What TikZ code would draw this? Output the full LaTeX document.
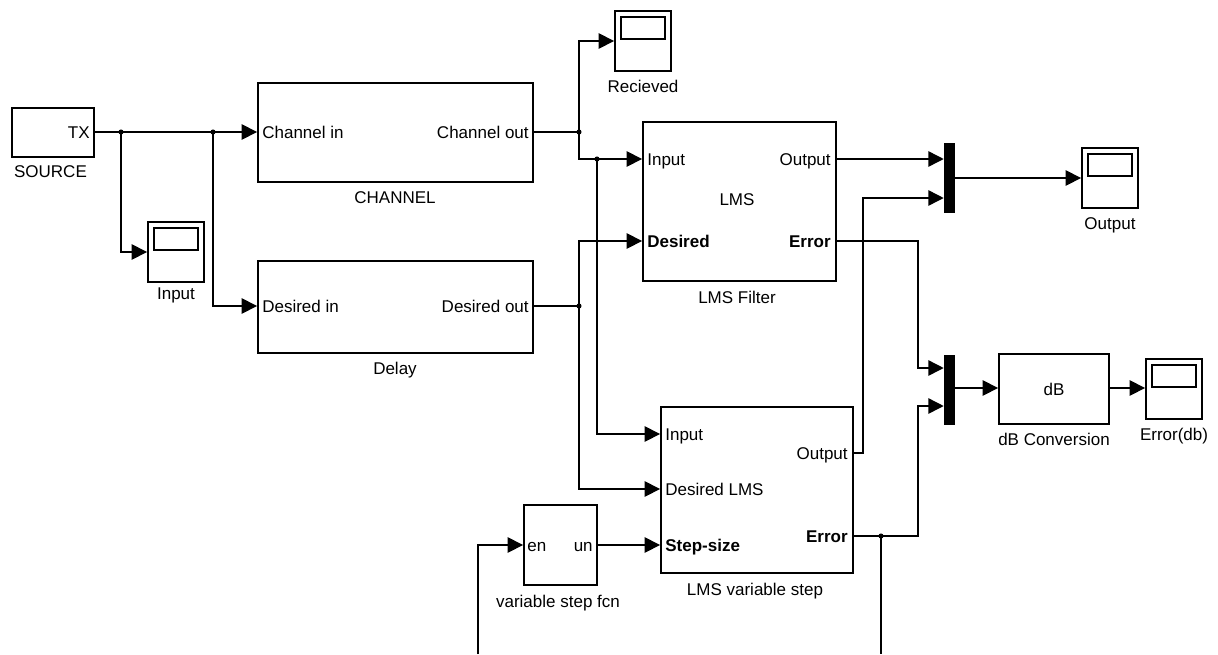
\documentclass[tikz,border=0pt]{standalone}
\usepackage{fontspec}
\setmainfont{Liberation Sans}
\usetikzlibrary{arrows.meta,calc}
\begin{document}
\begin{tikzpicture}[x=0.75pt,y=-0.75pt,
  font=\fontsize{12.75}{15}\selectfont,
  blk/.style={draw,line width=1.4pt,inner sep=0pt},
  scopebox/.style={blk,minimum width=42pt,minimum height=45pt},
  screen/.style={draw,line width=1.3pt},
  muxbar/.style={fill=black,draw=none,minimum width=8.25pt,minimum height=52.5pt,inner sep=0pt},
  wire/.style={line width=1.1pt},
  sig/.style={wire,-{Triangle[length=11.5pt,width=11.5pt]}},
  lbl/.style={inner sep=0pt,anchor=base},
  pin/.style={inner sep=0pt,anchor=base west,yshift=-4.7pt},
  pout/.style={inner sep=0pt,anchor=base east,yshift=-4.7pt},
  dot/.style={fill=black}
]
\useasboundingbox (0,0) rectangle (1218,654);

% ---------- blocks ----------
\node[blk,minimum width=61.5pt,minimum height=36.75pt] (src) at (53,132.5) {};
\node[scopebox] (scin) at (176,252) {};
\node[blk,minimum width=206.25pt,minimum height=74.25pt] (ch) at (395.5,132.5) {};
\node[blk,minimum width=206.25pt,minimum height=69pt] (dl) at (395.5,307) {};
\node[scopebox] (rc) at (643,41) {};
\node[blk,minimum width=144.75pt,minimum height=119.25pt] (lms) at (739.5,201.5) {};
\node[blk,minimum width=144pt,minimum height=124.5pt] (var) at (757,490) {};
\node[blk,minimum width=54.75pt,minimum height=60pt] (vsf) at (560.5,545) {};
\node[muxbar] (mux1) at (949.5,178) {};
\node[muxbar] (mux2) at (949.5,389.5) {};
\node[scopebox] (osc) at (1110,178) {};
\node[blk,minimum width=82.5pt,minimum height=52.5pt] (db) at (1054,389) {};
\node[scopebox] (esc) at (1174,389) {};

% scope screens
\foreach \s in {scin,rc,osc,esc}{
  \draw[screen] ([shift={(7,7)}]\s.north west) rectangle ([shift={(-7,29)}]\s.north east);
}

% ---------- ports ----------
\coordinate (src-o) at (src.east |- 0,132);
\coordinate (ch-i) at (ch.west |- 0,132);
\coordinate (ch-o) at (ch.east |- 0,132);
\coordinate (dl-i) at (dl.west |- 0,306);
\coordinate (dl-o) at (dl.east |- 0,306);
\coordinate (lms-i) at (lms.west |- 0,159);
\coordinate (lms-d) at (lms.west |- 0,241);
\coordinate (lms-o) at (lms.east |- 0,159);
\coordinate (lms-e) at (lms.east |- 0,241);
\coordinate (var-i) at (var.west |- 0,434);
\coordinate (var-d) at (var.west |- 0,489);
\coordinate (var-s) at (var.west |- 0,545);
\coordinate (var-o) at (var.east |- 0,453);
\coordinate (var-e) at (var.east |- 0,536);
\coordinate (vsf-i) at (vsf.west |- 0,545);
\coordinate (vsf-o) at (vsf.east |- 0,545);
\coordinate (m1-a) at (mux1.west |- 0,159);
\coordinate (m1-b) at (mux1.west |- 0,198);
\coordinate (m2-a) at (mux2.west |- 0,368);
\coordinate (m2-b) at (mux2.west |- 0,406);
\coordinate (m2-o) at (mux2.east |- 0,388);
\coordinate (db-i) at (db.west |- 0,388);
\coordinate (db-o) at (db.east |- 0,388);
\coordinate (esc-i) at (esc.west |- 0,388);

% branch points
\coordinate (b1) at (121,132);
\coordinate (b2) at (213,132);
\coordinate (b3) at (579,132);
\coordinate (b4) at (597,159);
\coordinate (b5) at (579,306);
\coordinate (b6) at (881,536);
\coordinate (c1) at (863,453);
\coordinate (c2) at (918,241);
\coordinate (c3) at (918,536);
\coordinate (fb1) at (881,654);
\coordinate (fb2) at (478,654);

% ---------- connectors ----------
\draw[sig] (src-o) -- (ch-i);
\draw[sig] (b1) |- (scin.west);
\draw[sig] (b2) |- (dl-i);
\draw[wire] (ch-o) -- (b3);
\draw[sig] (b3) |- (rc.west);
\draw[sig] (b3) |- (lms-i);
\draw[sig] (b4) |- (var-i);
\draw[wire] (dl-o) -- (b5);
\draw[sig] (b5) |- (lms-d);
\draw[sig] (b5) |- (var-d);
\draw[sig] (lms-o) -- (m1-a);
\draw[sig] (var-o) -- (c1) |- (m1-b);
\draw[sig] (lms-e) -- (c2) |- (m2-a);
\draw[sig] (var-e) -- (c3) |- (m2-b);
\draw[wire] (b6) -- (fb1);
\draw[sig] (fb2) |- (vsf-i);
\draw[sig] (vsf-o) -- (var-s);
\draw[sig] (mux1.east) -- (osc.west);
\draw[sig] (m2-o) -- (db-i);
\draw[sig] (db-o) -- (esc-i);

\foreach \b in {b1,b2,b3,b4,b5,b6}{\fill[dot] (\b) circle (1.9pt);}

% ---------- port labels ----------
\node[pout] at ([xshift=-3.75pt]src-o) {TX};
\node[pin]  at ([xshift=3.75pt]ch-i) {Channel in};
\node[pout] at ([xshift=-3.75pt]ch-o) {Channel out};
\node[pin]  at ([xshift=3.75pt]dl-i) {Desired in};
\node[pout] at ([xshift=-3.75pt]dl-o) {Desired out};
\node[pin]  at ([xshift=3.75pt]lms-i) {Input};
\node[pout] at ([xshift=-4.5pt]lms-o) {Output};
\node[pin]  at ([xshift=3.75pt]lms-d) {\bfseries Desired};
\node[pout] at ([xshift=-4.5pt]lms-e) {\bfseries Error};
\node[lbl]  at (737,205) {LMS};
\node[pin]  at ([xshift=3.75pt]var-i) {Input};
\node[pin]  at ([xshift=3.75pt]var-d) {Desired LMS};
\node[pin]  at ([xshift=3.75pt]var-s) {\bfseries Step-size};
\node[pout] at ([xshift=-4.5pt]var-o) {Output};
\node[pout] at ([xshift=-4.5pt]var-e) {\bfseries Error};
\node[pin]  at ([xshift=3pt]vsf-i) {en};
\node[pout] at ([xshift=-3.75pt]vsf-o) {un};
\node[lbl]  at (1054,395) {dB};

% ---------- block names ----------
\node[lbl] at (50.5,177) {SOURCE};
\node[lbl] at (176,299) {Input};
\node[lbl] at (395,203) {CHANNEL};
\node[lbl] at (395,374) {Delay};
\node[lbl] at (643,92) {Recieved};
\node[lbl] at (737,303) {LMS Filter};
\node[lbl] at (1110,229) {Output};
\node[lbl] at (1054,445) {dB Conversion};
\node[lbl] at (1174,440) {Error(db)};
\node[lbl] at (755,595) {LMS variable step};
\node[lbl] at (558,607) {variable step fcn};
\end{tikzpicture}
\end{document}
